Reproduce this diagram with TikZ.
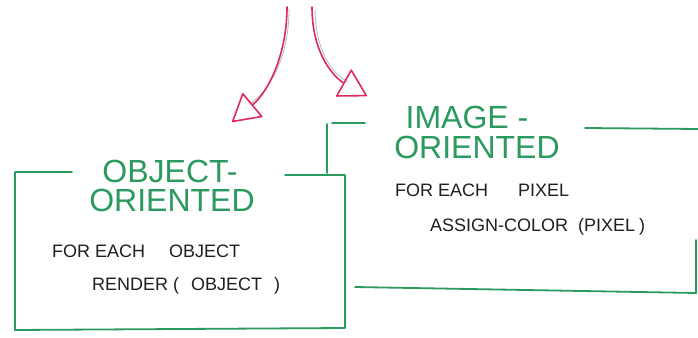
\documentclass[tikz,border=0pt]{standalone}
\usepackage{fontspec}
\setmainfont{Liberation Sans}
\usetikzlibrary{arrows.meta}
\definecolor{penGreen}{HTML}{2A9A5E}
\definecolor{penRed}{HTML}{DC2A5C}
\definecolor{pencil}{HTML}{B4BAC2}
\definecolor{ink}{HTML}{1E1E24}

\begin{document}
\begin{tikzpicture}[x=1pt,y=-1pt,
  frame/.style={draw=penGreen, line width=1.8pt, line cap=round, line join=round},
  heading/.style={text=penGreen, font=\fontsize{32}{32}\selectfont, inner sep=0pt, anchor=base},
  code/.style={text=ink, font=\fontsize{18}{18}\selectfont, inner sep=0pt, anchor=base west},
  flow/.style={draw=penRed, line width=1.6pt, line cap=round,
    -{Triangle[open,length=28pt,width=32pt,line width=1.6pt,round]}},
  sketch/.style={draw=pencil, line width=0.8pt, line cap=round}]

% page
\fill[white] (0,0) rectangle (698,337);
\useasboundingbox (0,0) rectangle (698,337);

% image-oriented frame (behind)
\draw[frame] (327,173) -- (327,124);
\draw[frame] (332,123) -- (365,123);
\draw[frame] (585,128) -- (698,129);
\draw[frame] (355,287) -- (696,293) -- (696,240);

% object-oriented frame
\draw[frame] (72,172) -- (15,172) -- (15,330) -- (345,328) -- (345,175) -- (285,175);

% headings
\node[heading] (objTitleA) at (170,182) {OBJECT-};
\node[heading] (objTitleB) at (172,211) {ORIENTED};
\node[heading] (imgTitleA) at (467,128) {IMAGE -};
\node[heading] (imgTitleB) at (477,158) {ORIENTED};

% loop bodies
\node[code] (objLoop) at (52,257) {FOR EACH\hspace{24pt}OBJECT};
\node[code] (objBody) at (92,290) {RENDER\hspace{5pt}(\hspace{12pt}OBJECT\hspace{12pt})};
\node[code] (imgLoop) at (395,196) {FOR EACH\hspace{30pt}PIXEL};
\node[code] (imgBody) at (430,231) {ASSIGN-COLOR\hspace{10pt}(PIXEL\hspace{4pt})};

% arrows splitting towards the two approaches
\coordinate (leftStart) at (287,7);
\coordinate (leftTip) at (232,122);
\coordinate (rightStart) at (312,7);
\coordinate (rightTip) at (367,96);

\draw[sketch] (289,9) .. controls (289,55) and (272,88) .. (250,104);
\draw[sketch] (315,10) .. controls (316,52) and (332,74) .. (348,82);

\draw[flow] (leftStart) .. controls (287,55) and (268,92) .. (leftTip);
\draw[flow] (rightStart) .. controls (312,55) and (335,78) .. (rightTip);
\end{tikzpicture}
\end{document}
